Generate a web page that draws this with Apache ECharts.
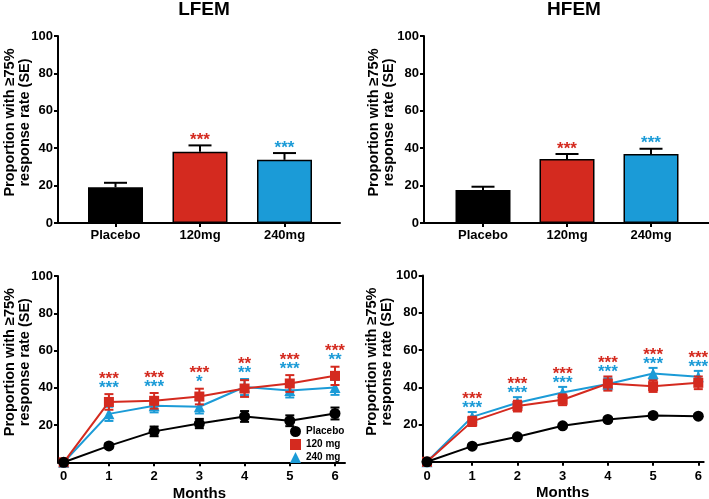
<!DOCTYPE html>
<html><head><meta charset="utf-8">
<script src="https://cdn.jsdelivr.net/npm/echarts@6/dist/echarts.min.js"></script>
<style>html,body{margin:0;padding:0;background:#fff}#c{width:709px;height:499px}</style>
</head><body><div id="c"></div>
<script>
// ---------- data ----------
const barCategories = ['Placebo', '120mg', '240mg'];
const lfemBarValues = [19.1, 38.1, 33.8];
const lfemBarSE = [2.4, 3.4, 3.6];
const hfemBarValues = [17.6, 34.2, 36.9];
const hfemBarSE = [1.8, 2.7, 2.8];
const barStars = ['', '***', '***'];

const months = [0, 1, 2, 3, 4, 5, 6];
const lfemPlacebo = [0, 8.8, 16.6, 20.8, 24.6, 22.3, 26.2];
const lfemPlaceboSE = [0, 1.3, 2.6, 2.5, 2.9, 2.9, 3.2];
const lfem120 = [0, 32.4, 33.0, 35.3, 39.6, 42.3, 46.4];
const lfem120SE = [0, 4.2, 4.2, 4.2, 4.5, 4.5, 4.9];
const lfem240 = [0, 26.0, 30.4, 29.8, 40.4, 38.6, 40.2];
const lfem240SE = [0, 3.8, 3.6, 3.6, 4.3, 3.8, 4.0];
const lfemStars120 = ['', '***', '***', '***', '**', '***', '***'];
const lfemStars240 = ['', '***', '***', '*', '**', '***', '**'];

const hfemPlacebo = [0, 8.4, 13.4, 19.3, 22.7, 24.9, 24.5];
const hfemPlaceboSE = [0, 0.8, 0.9, 1.0, 1.0, 1.0, 1.0];
const hfem120 = [0, 21.7, 29.9, 33.3, 42.0, 40.6, 42.4];
const hfem120SE = [0, 2.5, 2.9, 2.9, 3.8, 3.1, 3.4];
const hfem240 = [0, 24.1, 31.7, 37.2, 41.8, 47.4, 45.6];
const hfem240SE = [0, 2.6, 3.0, 3.0, 3.0, 3.0, 3.2];
const hfemStars120 = ['', '***', '***', '***', '***', '***', '***'];
const hfemStars240 = ['', '***', '***', '***', '***', '***', '***'];

const yTickMin = 0, yTickMax = 100, yTickStep = 20;
const legendNames = ['Placebo', '120 mg', '240 mg'];
const titles = ['LFEM', 'HFEM'];
const yTitle = 'Proportion with \u226575%\nresponse rate (SE)';
const xTitle = 'Months';

// ---------- style ----------
const FONT = '"Liberation Sans", Arial, Helvetica, sans-serif';
const BLACK = '#000000', RED = '#d42a1f', BLUE = '#1b9bd7';
const barColors = [BLACK, RED, BLUE];

const chart = echarts.init(document.getElementById('c'), null, {renderer: 'canvas'});

function G(o) { return Object.assign({outerBoundsMode: 'none', containLabel: false}, o); }
const grids = [
  G({left: 58, top: 36, width: 282, height: 187}),      // 0 LFEM bar frame
  G({left: 73.25, top: 36, width: 253.5, height: 187}), // 1 LFEM bar data
  G({left: 424, top: 36, width: 290, height: 187}),     // 2 HFEM bar frame
  G({left: 441, top: 36, width: 252, height: 187}),     // 3 HFEM bar data
  G({left: 58, top: 276, width: 287, height: 186.3}),   // 4 LFEM line frame
  G({left: 63.7, top: 276, width: 271.3, height: 186.3}), // 5 LFEM line data
  G({left: 422.7, top: 275.5, width: 281, height: 186.3}), // 6 HFEM line frame
  G({left: 427, top: 275.5, width: 271.3, height: 186.3})  // 7 HFEM line data
];

const axisLineStyle = {color: BLACK, width: 2};
const labelStyle = {color: BLACK, fontFamily: FONT, fontWeight: 'bold', fontSize: 13};

function frameX(gi) {
  return {type: 'value', gridIndex: gi, min: 0, max: 1,
    axisLine: {show: true, onZero: false, lineStyle: axisLineStyle},
    axisTick: {show: false}, axisLabel: {show: false}, splitLine: {show: false}};
}
function frameY(gi, showMin, gap) {
  return {type: 'value', gridIndex: gi, min: yTickMin, max: yTickMax, interval: yTickStep,
    axisLine: {show: true, lineStyle: axisLineStyle},
    axisTick: {show: true, length: 4, lineStyle: {color: BLACK, width: 2}},
    axisLabel: Object.assign({margin: 5, showMinLabel: showMin}, labelStyle),
    splitLine: {show: false},
    name: yTitle, nameLocation: 'middle', nameRotate: 90, nameGap: gap, nameMoveOverlap: false,
    nameTextStyle: {color: BLACK, fontFamily: FONT, fontWeight: 'bold', fontSize: 14.5, lineHeight: 15,
      padding: [0, 0, 0, 14]}};
}
function hiddenY(gi) {
  return {type: 'value', gridIndex: gi, min: yTickMin, max: yTickMax, show: false};
}
function barX(gi) {
  return {type: 'category', gridIndex: gi, data: barCategories,
    axisLine: {show: false},
    axisTick: {show: true, alignWithLabel: true, length: 4, lineStyle: {color: BLACK, width: 2}},
    axisLabel: Object.assign({margin: 6}, labelStyle),
    splitLine: {show: false}};
}
function lineX(gi) {
  return {type: 'value', gridIndex: gi, min: months[0], max: months[months.length - 1], interval: 1,
    axisLine: {show: false},
    axisTick: {show: true, length: 4, lineStyle: {color: BLACK, width: 2}},
    axisLabel: Object.assign({margin: 8}, labelStyle),
    splitLine: {show: false},
    name: xTitle, nameLocation: 'middle', nameGap: 24, nameMoveOverlap: false,
    nameTextStyle: {color: BLACK, fontFamily: FONT, fontWeight: 'bold', fontSize: 15}};
}

const xAxes = [frameX(0), barX(1), frameX(2), barX(3), frameX(4), lineX(5), frameX(6), lineX(7)];
const yAxes = [frameY(0, true, 26), hiddenY(1), frameY(2, true, 28), hiddenY(3),
               frameY(4, false, 26), hiddenY(5), frameY(6, false, 28), hiddenY(7)];

const series = [];

// ---- bar panels ----
function addBarPanel(ai, values, se) {
  series.push({
    type: 'bar', xAxisIndex: ai, yAxisIndex: ai, barWidth: 55,
    data: values.map((v, i) => ({value: v, itemStyle: {color: barColors[i], borderColor: BLACK, borderWidth: 1.5}})),
    z: 2
  });
  series.push({
    type: 'custom', xAxisIndex: ai, yAxisIndex: ai, z: 1,
    data: values.map((v, i) => [i, v, se[i]]),
    encode: {x: 0, y: 1},
    renderItem: function (params, api) {
      const i = api.value(0), v = api.value(1), s = api.value(2);
      const base = api.coord([i, v]);
      const top = api.coord([i, v + s]);
      const half = 11.5;
      const children = [
        {type: 'line', shape: {x1: base[0], y1: base[1], x2: top[0], y2: top[1]}, style: {stroke: BLACK, lineWidth: 2}},
        {type: 'line', shape: {x1: top[0] - half, y1: top[1], x2: top[0] + half, y2: top[1]}, style: {stroke: BLACK, lineWidth: 2}}
      ];
      const st = barStars[params.dataIndex];
      if (st) {
        children.push({type: 'text', z2: 10, style: {text: st, x: top[0], y: top[1] - 5, fill: barColors[params.dataIndex],
          font: 'bold 17px ' + FONT, align: 'center', verticalAlign: 'middle'}});
      }
      return {type: 'group', children: children};
    }
  });
}
addBarPanel(1, lfemBarValues, lfemBarSE);
addBarPanel(3, hfemBarValues, hfemBarSE);

// ---- line panels ----
function errSeries(ai, vals, se, color, z) {
  return {
    type: 'custom', xAxisIndex: ai, yAxisIndex: ai, z: z, clip: false,
    data: months.map((m, i) => [m, vals[i], se[i]]),
    encode: {x: 0, y: 1},
    renderItem: function (params, api) {
      const m = api.value(0), v = api.value(1), s = api.value(2);
      if (!s) return null;
      const lo = api.coord([m, v - s]), hi = api.coord([m, v + s]);
      const h = 4.5;
      const st = {stroke: color, lineWidth: 2};
      return {type: 'group', children: [
        {type: 'line', shape: {x1: lo[0], y1: lo[1], x2: hi[0], y2: hi[1]}, style: st},
        {type: 'line', shape: {x1: hi[0] - h, y1: hi[1], x2: hi[0] + h, y2: hi[1]}, style: st},
        {type: 'line', shape: {x1: lo[0] - h, y1: lo[1], x2: lo[0] + h, y2: lo[1]}, style: st}
      ]};
    }
  };
}
function lineSeries(ai, name, vals, color, symbol, size, z) {
  return {
    type: 'line', name: name, xAxisIndex: ai, yAxisIndex: ai, z: z, clip: false,
    data: months.map((m, i) => [m, vals[i]]),
    symbol: symbol, symbolSize: size, showSymbol: true,
    lineStyle: {color: color, width: 2}, itemStyle: {color: color, borderWidth: 0},
    emphasis: {disabled: true}
  };
}
function starSeries(ai, groups, stars120, stars240, offRed, offBlue) {
  return {
    type: 'custom', xAxisIndex: ai, yAxisIndex: ai, z: 20, clip: false,
    data: months.map((m, i) => [m, Math.max.apply(null, groups.map(g => g[0][i] + g[1][i]))]),
    encode: {x: 0, y: 1},
    renderItem: function (params, api) {
      const i = params.dataIndex;
      const p = api.coord([api.value(0), api.value(1)]);
      const ch = [];
      if (stars120[i]) ch.push({type: 'text', style: {text: stars120[i], x: p[0], y: p[1] - offRed, fill: RED,
        font: 'bold 17px ' + FONT, align: 'center', verticalAlign: 'middle'}});
      if (stars240[i]) ch.push({type: 'text', style: {text: stars240[i], x: p[0], y: p[1] - offBlue, fill: BLUE,
        font: 'bold 17px ' + FONT, align: 'center', verticalAlign: 'middle'}});
      return {type: 'group', children: ch};
    }
  };
}
function addLinePanel(ai, pl, plSE, r, rSE, b, bSE, s120, s240, offRed, offBlue) {
  series.push(errSeries(ai, b, bSE, BLUE, 3));
  series.push(lineSeries(ai, legendNames[2], b, BLUE, 'triangle', 11, 4));
  series.push(errSeries(ai, r, rSE, RED, 5));
  series.push(lineSeries(ai, legendNames[1], r, RED, 'rect', 10, 6));
  series.push(errSeries(ai, pl, plSE, BLACK, 7));
  series.push(lineSeries(ai, legendNames[0], pl, BLACK, 'circle', 11, 8));
  series.push(starSeries(ai, [[pl, plSE], [r, rSE], [b, bSE]], s120, s240, offRed, offBlue));
}
addLinePanel(5, lfemPlacebo, lfemPlaceboSE, lfem120, lfem120SE, lfem240, lfem240SE, lfemStars120, lfemStars240, 15, 6);
addLinePanel(7, hfemPlacebo, hfemPlaceboSE, hfem120, hfem120SE, hfem240, hfem240SE, hfemStars120, hfemStars240, 13, 4);

const option = {
  animation: false,
  backgroundColor: '#ffffff',
  title: [
    {text: titles[0], left: 199, top: -5, textAlign: 'center',
      textStyle: {color: BLACK, fontFamily: FONT, fontWeight: 'bold', fontSize: 19}},
    {text: titles[1], left: 569, top: -5, textAlign: 'center',
      textStyle: {color: BLACK, fontFamily: FONT, fontWeight: 'bold', fontSize: 19}}
  ],
  legend: {
    orient: 'vertical', left: 290, top: 426, padding: 0, itemGap: 2,
    itemWidth: 11, itemHeight: 11,
    data: [
      {name: legendNames[0], icon: 'circle'},
      {name: legendNames[1], icon: 'rect'},
      {name: legendNames[2], icon: 'triangle'}
    ],
    textStyle: {color: BLACK, fontFamily: FONT, fontWeight: 'bold', fontSize: 10},
    selectedMode: false
  },
  grid: grids,
  xAxis: xAxes,
  yAxis: yAxes,
  series: series
};
chart.setOption(option);
</script></body></html>
